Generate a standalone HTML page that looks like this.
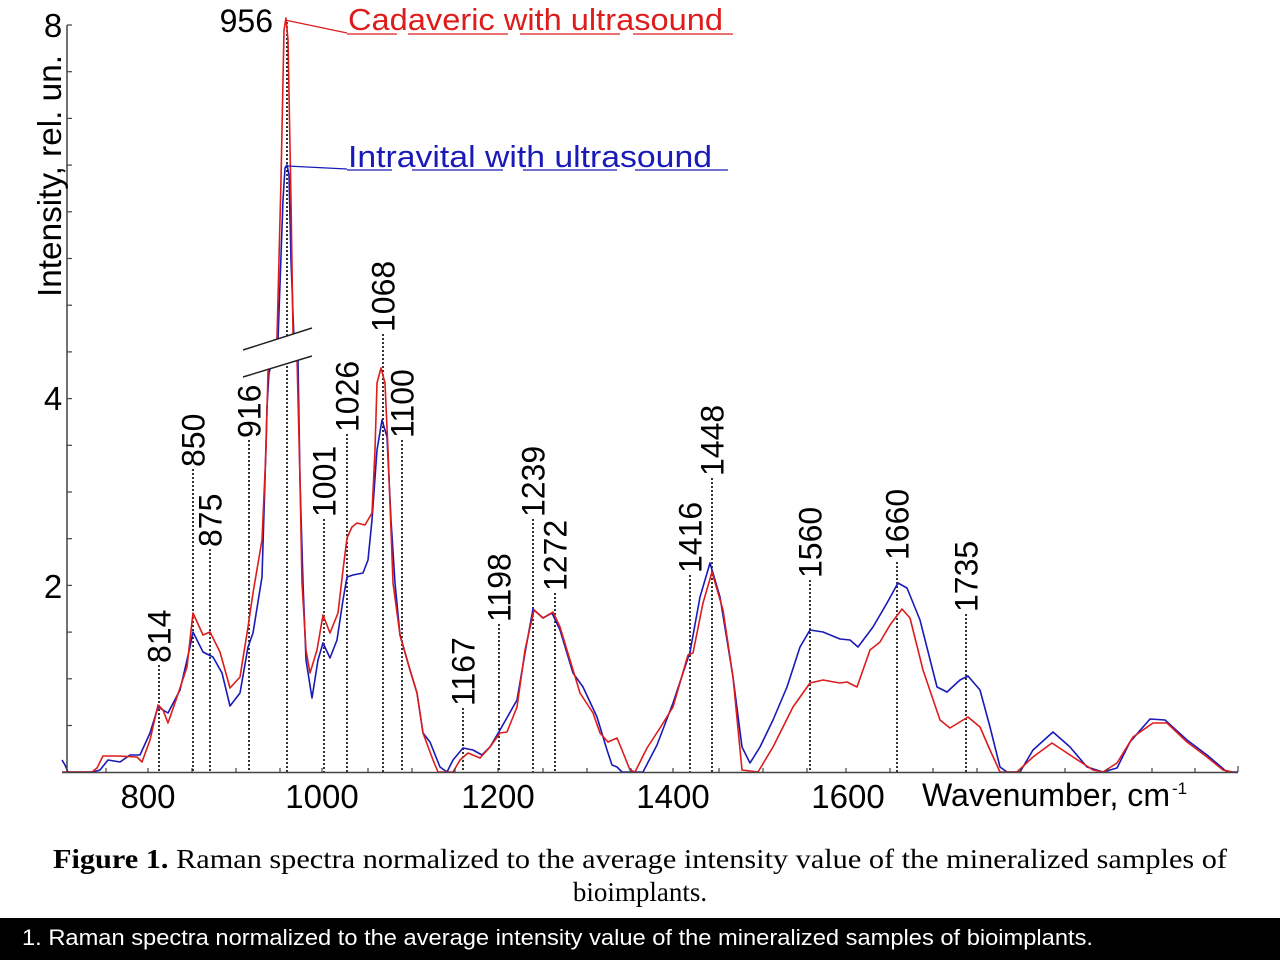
<!DOCTYPE html>
<html><head><meta charset="utf-8"><style>
html,body{margin:0;padding:0;background:#fff;}
svg{display:block;}
</style></head><body>
<svg width="1280" height="960" viewBox="0 0 1280 960" xmlns="http://www.w3.org/2000/svg">
<rect width="1280" height="960" fill="#fff"/>
<!-- dotted lines -->
<g stroke="#000" stroke-width="1.6" stroke-dasharray="2,2" fill="none">
<line x1="159" y1="665" x2="159" y2="772"/>
<line x1="193" y1="469" x2="193" y2="772"/>
<line x1="210" y1="549" x2="210" y2="772"/>
<line x1="249" y1="440" x2="249" y2="772"/>
<line x1="287" y1="22" x2="287" y2="772"/>
<line x1="324" y1="519" x2="324" y2="772"/>
<line x1="347" y1="434" x2="347" y2="772"/>
<line x1="383" y1="334" x2="383" y2="772"/>
<line x1="402" y1="440" x2="402" y2="772"/>
<line x1="463" y1="708" x2="463" y2="772"/>
<line x1="499" y1="624" x2="499" y2="772"/>
<line x1="533" y1="519" x2="533" y2="772"/>
<line x1="555" y1="593" x2="555" y2="772"/>
<line x1="690" y1="575" x2="690" y2="772"/>
<line x1="712" y1="478" x2="712" y2="772"/>
<line x1="810" y1="580" x2="810" y2="772"/>
<line x1="897" y1="562" x2="897" y2="772"/>
<line x1="966" y1="614" x2="966" y2="772"/>
</g>
<!-- blue curve -->
<polyline fill="none" stroke="#1a1ab8" stroke-width="1.6" stroke-linejoin="round" points="62,760 65,765 68,772 93,772 100,770 108,760 120,762 130,755 140,755 150,733 158,707 168,713 180,690 190,647 193,632 203,652 213,657 222,673 230,706 240,693 248,647 253,633 262,577 265,480 267,407 269,373 278,340 283,200 285,168 287,165 289,175 291,260 294,340 298,360 300,480 303,583 306,660 312,698 318,660 323,643 330,658 337,640 343,600 347,577 353,575 363,573 368,560 372,520 377,450 382,420 387,437 391,520 395,583 400,635 410,670 417,693 423,733 430,742 440,767 447,772 453,760 463,748 473,750 482,755 490,747 500,730 517,700 525,653 533,609 543,618 552,613 560,630 573,673 583,687 597,717 607,750 612,765 617,767 622,772 643,772 657,745 673,703 690,652 700,597 710,563 720,597 733,677 742,747 750,763 760,747 773,720 787,687 800,647 810,630 823,632 840,639 850,640 858,647 873,627 887,603 898,583 907,588 920,620 937,687 947,692 960,680 968,676 980,690 990,727 1000,767 1007,772 1020,772 1033,750 1053,732 1070,747 1087,767 1103,772 1117,768 1130,742 1150,719 1165,720 1187,740 1207,755 1227,772 1238,772"/>
<!-- red curve -->
<polyline fill="none" stroke="#dd1c1c" stroke-width="1.6" stroke-linejoin="round" points="62,772 92,772 97,768 103,756 117,756 137,757 142,762 150,740 158,705 163,710 168,723 177,697 187,667 193,613 203,635 210,632 220,652 230,688 240,677 248,627 253,593 262,540 266,450 268,372 277,338 281,180 284,30 286,18 288,40 291,200 293,333 297,358 300,480 302,583 306,650 310,673 317,650 323,615 330,633 338,613 343,570 347,538 352,527 357,523 365,525 372,513 375,450 377,383 381,368 385,383 388,450 393,583 400,635 410,670 417,693 423,733 433,760 438,772 453,772 460,760 468,753 480,758 490,747 500,733 507,732 517,707 525,650 534,610 543,618 553,612 560,627 570,660 580,693 593,713 600,733 608,742 617,738 622,750 630,770 635,772 647,748 660,728 673,707 688,655 693,653 703,603 712,572 723,610 733,677 742,770 758,772 773,747 793,707 810,683 823,680 840,683 847,682 857,687 870,650 880,642 890,625 902,609 910,618 923,670 940,720 950,728 968,717 980,727 990,750 1000,772 1017,772 1033,757 1052,743 1073,757 1093,770 1103,772 1117,763 1133,737 1153,723 1167,723 1187,742 1207,757 1223,770 1233,772"/>
<!-- axis break -->
<polygon points="243,350 312,328 312,356 243,377" fill="#fff"/>
<g stroke="#222" stroke-width="1.5">
<line x1="243" y1="350" x2="312" y2="328"/>
<line x1="243" y1="377" x2="312" y2="356"/>
</g>
<!-- axes -->
<g stroke="#444" stroke-width="1.5" fill="none">
<line x1="67" y1="25" x2="67" y2="773"/>
<line x1="62" y1="772.5" x2="1238" y2="772.5"/>
</g>
<g stroke="#444" stroke-width="1.2">
<line x1="67" y1="25" x2="72" y2="25"/><line x1="67" y1="71.7" x2="72" y2="71.7"/><line x1="67" y1="118.4" x2="72" y2="118.4"/><line x1="67" y1="165.1" x2="72" y2="165.1"/><line x1="67" y1="211.8" x2="72" y2="211.8"/><line x1="67" y1="258.5" x2="72" y2="258.5"/><line x1="67" y1="305.2" x2="72" y2="305.2"/><line x1="67" y1="351.9" x2="72" y2="351.9"/><line x1="67" y1="398.6" x2="72" y2="398.6"/><line x1="67" y1="445.3" x2="72" y2="445.3"/><line x1="67" y1="492" x2="72" y2="492"/><line x1="67" y1="538.7" x2="72" y2="538.7"/><line x1="67" y1="585.4" x2="72" y2="585.4"/><line x1="67" y1="632.1" x2="72" y2="632.1"/><line x1="67" y1="678.8" x2="72" y2="678.8"/><line x1="67" y1="725.5" x2="72" y2="725.5"/>
<line x1="106" y1="768" x2="106" y2="772"/><line x1="148" y1="768" x2="148" y2="772"/><line x1="192" y1="768" x2="192" y2="772"/><line x1="236" y1="768" x2="236" y2="772"/><line x1="280" y1="768" x2="280" y2="772"/><line x1="322" y1="768" x2="322" y2="772"/><line x1="368" y1="768" x2="368" y2="772"/><line x1="412" y1="768" x2="412" y2="772"/><line x1="455" y1="768" x2="455" y2="772"/><line x1="498" y1="768" x2="498" y2="772"/><line x1="543" y1="768" x2="543" y2="772"/><line x1="587" y1="768" x2="587" y2="772"/><line x1="631" y1="768" x2="631" y2="772"/><line x1="673" y1="768" x2="673" y2="772"/><line x1="719" y1="768" x2="719" y2="772"/><line x1="763" y1="768" x2="763" y2="772"/><line x1="807" y1="768" x2="807" y2="772"/><line x1="846" y1="768" x2="846" y2="772"/><line x1="890" y1="768" x2="890" y2="772"/><line x1="933" y1="768" x2="933" y2="772"/><line x1="977" y1="768" x2="977" y2="772"/><line x1="1021" y1="768" x2="1021" y2="772"/><line x1="1065" y1="768" x2="1065" y2="772"/><line x1="1108" y1="768" x2="1108" y2="772"/><line x1="1152" y1="768" x2="1152" y2="772"/><line x1="1195" y1="768" x2="1195" y2="772"/><line x1="1238" y1="766" x2="1238" y2="772"/>
</g>
<!-- y labels -->
<g font-family="Liberation Sans, Arial, sans-serif" font-size="33" fill="#000" text-anchor="middle">
<text x="53" y="37">8</text>
<text x="53" y="410">4</text>
<text x="53" y="598">2</text>
<text x="148" y="808">800</text>
<text x="322" y="808">1000</text>
<text x="498" y="808">1200</text>
<text x="673" y="808">1400</text>
<text x="848" y="808">1600</text>
</g>
<text transform="translate(61,297) rotate(-90)" font-family="Liberation Sans, Arial, sans-serif" font-size="33" textLength="242" lengthAdjust="spacingAndGlyphs" fill="#000">Intensity, rel. un.</text>
<text x="922" y="806" font-family="Liberation Sans, Arial, sans-serif" font-size="32" textLength="248" lengthAdjust="spacingAndGlyphs" fill="#000">Wavenumber, cm</text>
<text x="1172" y="794" font-family="Liberation Sans, Arial, sans-serif" font-size="17" fill="#000">-1</text>
<!-- peak labels -->
<g font-family="Liberation Sans, Arial, sans-serif" font-size="32" fill="#000">
<text x="273" y="32" text-anchor="end">956</text>
<text transform="translate(170.5,663) rotate(-90)">814</text>
<text transform="translate(204.5,467) rotate(-90)">850</text>
<text transform="translate(221.5,547) rotate(-90)">875</text>
<text transform="translate(260.5,438) rotate(-90)">916</text>
<text transform="translate(335.5,517) rotate(-90)">1001</text>
<text transform="translate(358.5,432) rotate(-90)">1026</text>
<text transform="translate(394.5,332) rotate(-90)">1068</text>
<text transform="translate(413.5,438) rotate(-90)">1100</text>
<text transform="translate(474.5,706) rotate(-90)">1167</text>
<text transform="translate(510.5,622) rotate(-90)">1198</text>
<text transform="translate(544.5,517) rotate(-90)">1239</text>
<text transform="translate(566.5,591) rotate(-90)">1272</text>
<text transform="translate(701.5,573) rotate(-90)">1416</text>
<text transform="translate(723.5,476) rotate(-90)">1448</text>
<text transform="translate(821.5,578) rotate(-90)">1560</text>
<text transform="translate(908.5,560) rotate(-90)">1660</text>
<text transform="translate(977.5,612) rotate(-90)">1735</text>
</g>
<!-- legend -->
<g stroke-width="1.3" fill="none">
<polyline stroke="#dd1c1c" points="285,20 347,33"/>
<polyline stroke="#1a1ab8" points="287,166 347,169"/>
</g>
<text x="348" y="30" font-family="Liberation Sans, Arial, sans-serif" font-size="31" textLength="375" lengthAdjust="spacingAndGlyphs" fill="#dd1c1c">Cadaveric with ultrasound</text>
<text x="348" y="167" font-family="Liberation Sans, Arial, sans-serif" font-size="31" textLength="364" lengthAdjust="spacingAndGlyphs" fill="#1a1ab8">Intravital with ultrasound</text>
<g stroke="#dd1c1c" stroke-width="1.3">
<line x1="347" y1="34" x2="397" y2="34"/><line x1="408" y1="34" x2="508" y2="34"/><line x1="520" y1="34" x2="620" y2="34"/><line x1="633" y1="34" x2="733" y2="34"/>
</g>
<g stroke="#1a1ab8" stroke-width="1.3">
<line x1="347" y1="170" x2="392" y2="170"/><line x1="412" y1="170" x2="503" y2="170"/><line x1="523" y1="170" x2="617" y2="170"/><line x1="635" y1="170" x2="728" y2="170"/>
</g>
<!-- caption -->
<text x="53" y="868" font-family="Liberation Serif, Times New Roman, serif" font-size="27" textLength="1174" lengthAdjust="spacingAndGlyphs" fill="#000"><tspan font-weight="bold">Figure 1.</tspan> Raman spectra normalized to the average intensity value of the mineralized samples of</text>
<text x="640" y="901" text-anchor="middle" font-family="Liberation Serif, Times New Roman, serif" font-size="27" fill="#000">bioimplants.</text>
<rect x="0" y="918" width="1280" height="42" fill="#000"/>
<text x="22" y="945" font-family="Liberation Sans, Arial, sans-serif" font-size="22" textLength="1071" lengthAdjust="spacingAndGlyphs" fill="#fff">1. Raman spectra normalized to the average intensity value of the mineralized samples of bioimplants.</text>
</svg>
</body></html>
